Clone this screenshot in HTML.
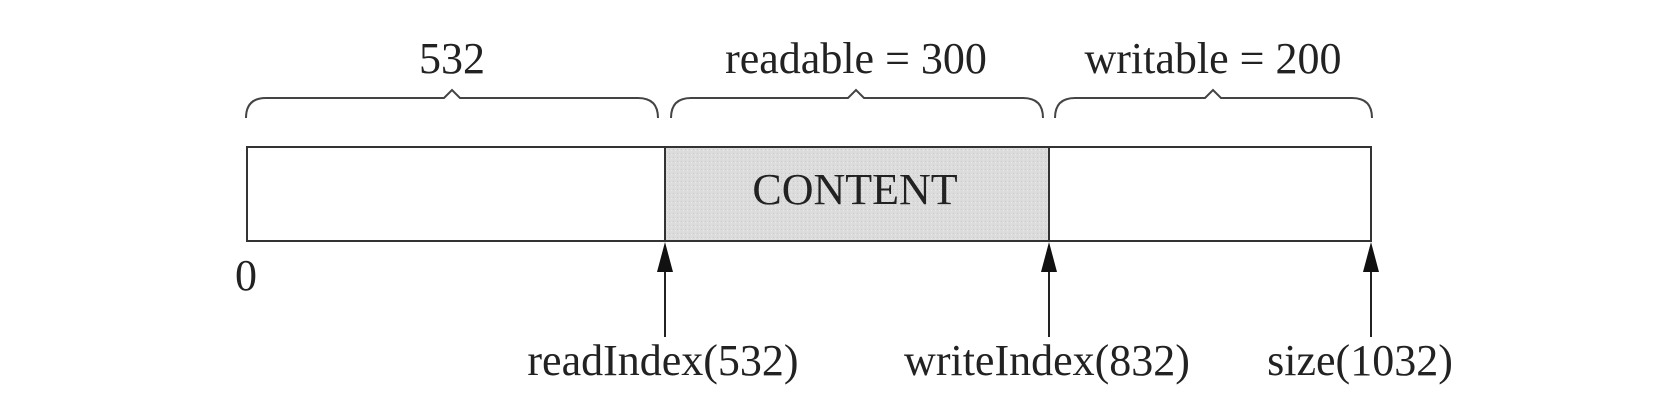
<!DOCTYPE html>
<html><head><meta charset="utf-8"><style>
html,body{margin:0;padding:0;background:#fff;}
svg{display:block;}
text{font-family:"Liberation Serif",serif;fill:#222;}
</style></head><body>
<svg width="1664" height="408" viewBox="0 0 1664 408" xmlns="http://www.w3.org/2000/svg">
<defs>
<pattern id="g" width="4" height="4" patternUnits="userSpaceOnUse">
<rect width="4" height="4" fill="#dcdcdc"/><rect x="1" y="1" width="1" height="1" fill="#c8c8c8"/><rect x="3" y="2" width="1" height="1" fill="#e8e8e8"/>
</pattern>
</defs>
<g fill="none" stroke="#444" stroke-width="2">
<path d="M246 118 Q246 98 266 98 L444 98 L452 90 L460 98 L638 98 Q658 98 658 118"/>
<path d="M671 118 Q671 98 691 98 L848 98 L856 90 L864 98 L1023 98 Q1043 98 1043 118"/>
<path d="M1055 118 Q1055 98 1075 98 L1205 98 L1213 90 L1221 98 L1352 98 Q1372 98 1372 118"/>
</g>
<rect x="665" y="147" width="384" height="94" fill="url(#g)"/>
<rect x="247" y="147" width="1124" height="94" fill="none" stroke="#333" stroke-width="2"/>
<line x1="665" y1="147" x2="665" y2="241" stroke="#333" stroke-width="2"/>
<line x1="1049" y1="147" x2="1049" y2="241" stroke="#333" stroke-width="2"/>
<g stroke="#222" stroke-width="2">
<line x1="665" y1="255" x2="665" y2="337"/>
<line x1="1049" y1="255" x2="1049" y2="337"/>
<line x1="1371" y1="255" x2="1371" y2="337"/>
</g>
<g fill="#111">
<polygon points="665,242 657,272 673,272"/>
<polygon points="1049,242 1041,272 1057,272"/>
<polygon points="1371,242 1363,272 1379,272"/>
</g>
<text x="452" y="73" font-size="44" text-anchor="middle">532</text>
<text x="856" y="73" font-size="44" text-anchor="middle">readable = 300</text>
<text x="1213" y="73" font-size="44" text-anchor="middle">writable = 200</text>
<text x="855" y="204" font-size="44" text-anchor="middle">CONTENT</text>
<text x="235" y="290" font-size="44">0</text>
<text x="663" y="375" font-size="44" text-anchor="middle">readIndex(532)</text>
<text x="1047" y="375" font-size="44" text-anchor="middle">writeIndex(832)</text>
<text x="1360" y="375" font-size="44" text-anchor="middle">size(1032)</text>
</svg>
</body></html>
